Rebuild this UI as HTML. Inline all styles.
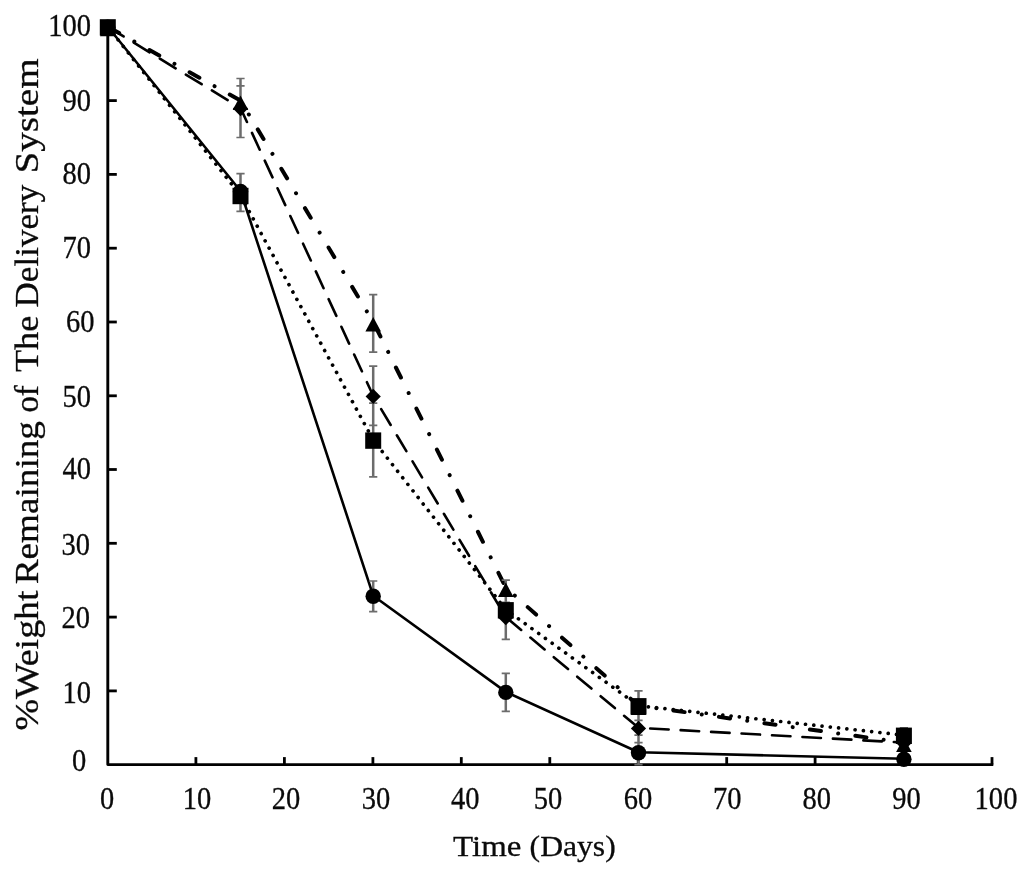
<!DOCTYPE html>
<html lang="en"><head><meta charset="utf-8"><title>Weight remaining of the delivery system</title>
<style>html,body{margin:0;padding:0;background:#fff}svg{display:block;filter:blur(0.55px)}text{font-family:"Liberation Serif",serif;fill:#0a0a0a;stroke:#0a0a0a;stroke-width:.3px}</style></head><body>
<svg width="1024" height="875" viewBox="0 0 1024 875">
<rect width="1024" height="875" fill="#fff"/>
<g stroke="#000" stroke-width="2.9" fill="none" stroke-linejoin="round">
<path d="M107.8 26.8 V764.6 H993.3"/>
</g>
<g stroke="#000" stroke-width="2.8" fill="none">
<path d="M195.9 764.6 v-7.5"/>
<path d="M284.4 764.6 v-7.5"/>
<path d="M372.9 764.6 v-7.5"/>
<path d="M461.3 764.6 v-7.5"/>
<path d="M549.8 764.6 v-7.5"/>
<path d="M638.2 764.6 v-7.5"/>
<path d="M726.7 764.6 v-7.5"/>
<path d="M815.1 764.6 v-7.5"/>
<path d="M903.6 764.6 v-7.5"/>
<path d="M992 764.6 v-7.5"/>
<path d="M107.8 690.9 h9"/>
<path d="M107.8 617.1 h9"/>
<path d="M107.8 543.3 h9"/>
<path d="M107.8 469.5 h9"/>
<path d="M107.8 395.8 h9"/>
<path d="M107.8 322 h9"/>
<path d="M107.8 248.2 h9"/>
<path d="M107.8 174.4 h9"/>
<path d="M107.8 100.6 h9"/>
</g>
<g font-size="30.5" lengthAdjust="spacingAndGlyphs">
<text x="62.5" y="703.3" textLength="28.5" lengthAdjust="spacingAndGlyphs">10</text>
<text x="61.5" y="628.1" textLength="28.5" lengthAdjust="spacingAndGlyphs">20</text>
<text x="61.5" y="554.6" textLength="28.5" lengthAdjust="spacingAndGlyphs">30</text>
<text x="62.5" y="478.9" textLength="28.5" lengthAdjust="spacingAndGlyphs">40</text>
<text x="62.5" y="407.2" textLength="28.5" lengthAdjust="spacingAndGlyphs">50</text>
<text x="66.1" y="331.9" textLength="28.5" lengthAdjust="spacingAndGlyphs">60</text>
<text x="62.5" y="258.3" textLength="28.5" lengthAdjust="spacingAndGlyphs">70</text>
<text x="62.5" y="184.3" textLength="28.5" lengthAdjust="spacingAndGlyphs">80</text>
<text x="62.5" y="110.5" textLength="28.5" lengthAdjust="spacingAndGlyphs">90</text>
<text x="48.2" y="35.8" textLength="42.8" lengthAdjust="spacingAndGlyphs">100</text>
<text x="72" y="770.6" textLength="14.25" lengthAdjust="spacingAndGlyphs">0</text>
<text x="99.9" y="808.6" textLength="14.2" lengthAdjust="spacingAndGlyphs">0</text>
<text x="182.8" y="808.6" textLength="28.5" lengthAdjust="spacingAndGlyphs">10</text>
<text x="271.8" y="808.6" textLength="28.5" lengthAdjust="spacingAndGlyphs">20</text>
<text x="361.8" y="808.6" textLength="28.5" lengthAdjust="spacingAndGlyphs">30</text>
<text x="451.1" y="808.6" textLength="28.5" lengthAdjust="spacingAndGlyphs">40</text>
<text x="533.8" y="808.6" textLength="28.5" lengthAdjust="spacingAndGlyphs">50</text>
<text x="623.8" y="808.6" textLength="28.5" lengthAdjust="spacingAndGlyphs">60</text>
<text x="713.1" y="808.6" textLength="28.5" lengthAdjust="spacingAndGlyphs">70</text>
<text x="802.5" y="808.6" textLength="28.5" lengthAdjust="spacingAndGlyphs">80</text>
<text x="892.2" y="808.6" textLength="28.5" lengthAdjust="spacingAndGlyphs">90</text>
<text x="974.6" y="808.6" textLength="42.8" lengthAdjust="spacingAndGlyphs">100</text>
</g>
<g font-size="30">
<text x="453.1" y="856.2" textLength="68.2" lengthAdjust="spacingAndGlyphs">Time</text>
<text x="529.6" y="856.2" textLength="86.1" lengthAdjust="spacingAndGlyphs">(Days)</text>
</g>
<g font-size="34" transform="translate(38.2 0) rotate(-90)">
<text x="-730.6" y="0" textLength="140.2" lengthAdjust="spacingAndGlyphs">%Weight</text>
<text x="-584.2" y="0" textLength="163.1" lengthAdjust="spacingAndGlyphs">Remaining</text>
<text x="-412.6" y="0" textLength="27.3" lengthAdjust="spacingAndGlyphs">of</text>
<text x="-372.1" y="0" textLength="56.4" lengthAdjust="spacingAndGlyphs">The</text>
<text x="-307.5" y="0" textLength="122.8" lengthAdjust="spacingAndGlyphs">Delivery</text>
<text x="-173.6" y="0" textLength="115.3" lengthAdjust="spacingAndGlyphs">System</text>
</g>
<g stroke="#000" fill="none" stroke-linejoin="round">
<polyline points="107.8,26.8 240.5,191 373.2,595.7 505.8,691.9 638.5,752.2 903.9,758.8" stroke-width="2.6"/>
<polyline points="107.8,26.8 240.5,195.4 373.2,440 505.8,609.7 638.5,705.7 903.9,735.2" stroke-width="3.7" stroke-linecap="round" stroke-dasharray="0.01 8.31"/>
<polyline points="107.8,26.8 240.5,108 373.2,395.8 505.8,617.1 638.5,727.8 903.9,742.6" stroke-width="2.6" stroke-linecap="round" stroke-dasharray="18.5 12"/>
<polyline points="107.8,26.8 240.5,100.6 373.2,322 505.8,587.6 638.5,705.7 903.9,742.6" stroke-width="4" stroke-linecap="round" stroke-dasharray="11.2 17.34 0.01 17.35" stroke-dashoffset="-1.8"/>
</g>
<g stroke="#6c6c6c" fill="none">
<path stroke-width="2.5" d="M240.5 173.6V211.3 M373.2 581V611.6 M505.8 673.4V711.4 M638.5 735.2V764.7 M903.9 755.1V762.5 M240.5 188V202.8 M373.2 403.1V476.9 M505.8 602.4V617.1 M638.5 690.9V720.4 M903.9 727.8V742.6 M240.5 78.5V137.5 M373.2 366.2V425.3 M505.8 595V639.3 M638.5 713V742.6 M903.9 735.2V749.9 M240.5 85.8V109.4 M373.2 294.7V352.2 M505.8 580.2V595 M638.5 700.5V710.8 M903.9 735.2V749.9"/>
<path stroke-width="1.7" d="M236.4 173.6h8.2M236.4 211.3h8.2 M369.1 581h8.2M369.1 611.6h8.2 M501.7 673.4h8.2M501.7 711.4h8.2 M634.4 735.2h8.2M634.4 764.7h8.2 M899.8 755.1h8.2M899.8 762.5h8.2 M236.4 188h8.2M236.4 202.8h8.2 M369.1 403.1h8.2M369.1 476.9h8.2 M501.7 602.4h8.2M501.7 617.1h8.2 M634.4 690.9h8.2M634.4 720.4h8.2 M899.8 727.8h8.2M899.8 742.6h8.2 M236.4 78.5h8.2M236.4 137.5h8.2 M369.1 366.2h8.2M369.1 425.3h8.2 M501.7 595h8.2M501.7 639.3h8.2 M634.4 713h8.2M634.4 742.6h8.2 M899.8 735.2h8.2M899.8 749.9h8.2 M236.4 85.8h8.2M236.4 109.4h8.2 M369.1 294.7h8.2M369.1 352.2h8.2 M501.7 580.2h8.2M501.7 595h8.2 M634.4 700.5h8.2M634.4 710.8h8.2 M899.8 735.2h8.2M899.8 749.9h8.2"/>
</g>
<g fill="#000" stroke="none">
<path d="M107.8 21.8 l7.8 14.4 h-15.6z"/>
<path d="M240.5 95.6 l7.8 14.4 h-15.6z"/>
<path d="M373.2 317 l7.8 14.4 h-15.6z"/>
<path d="M505.8 582.6 l7.8 14.4 h-15.6z"/>
<path d="M638.5 700.7 l7.8 14.4 h-15.6z"/>
<path d="M903.9 737.6 l7.8 14.4 h-15.6z"/>
<path d="M107.8 19.8 l7.6 7.6 l-7.6 7.6 l-7.6 -7.6z"/>
<path d="M240.5 101 l7.6 7.6 l-7.6 7.6 l-7.6 -7.6z"/>
<path d="M373.2 388.8 l7.6 7.6 l-7.6 7.6 l-7.6 -7.6z"/>
<path d="M505.8 610.1 l7.6 7.6 l-7.6 7.6 l-7.6 -7.6z"/>
<path d="M638.5 720.8 l7.6 7.6 l-7.6 7.6 l-7.6 -7.6z"/>
<path d="M903.9 735.6 l7.6 7.6 l-7.6 7.6 l-7.6 -7.6z"/>
<circle cx="107.8" cy="27.3" r="7.7"/>
<circle cx="240.5" cy="191.5" r="7.7"/>
<circle cx="373.2" cy="596.2" r="7.7"/>
<circle cx="505.8" cy="692.4" r="7.7"/>
<circle cx="638.5" cy="752.7" r="7.7"/>
<circle cx="903.9" cy="759.3" r="7.7"/>
<rect x="99.8" y="19.2" width="16" height="16.4"/>
<rect x="232.5" y="187.8" width="16" height="16.4"/>
<rect x="365.2" y="432.4" width="16" height="16.4"/>
<rect x="497.8" y="602.1" width="16" height="16.4"/>
<rect x="630.5" y="698.1" width="16" height="16.4"/>
<rect x="895.9" y="727.6" width="16" height="16.4"/>
</g>
</svg></body></html>
